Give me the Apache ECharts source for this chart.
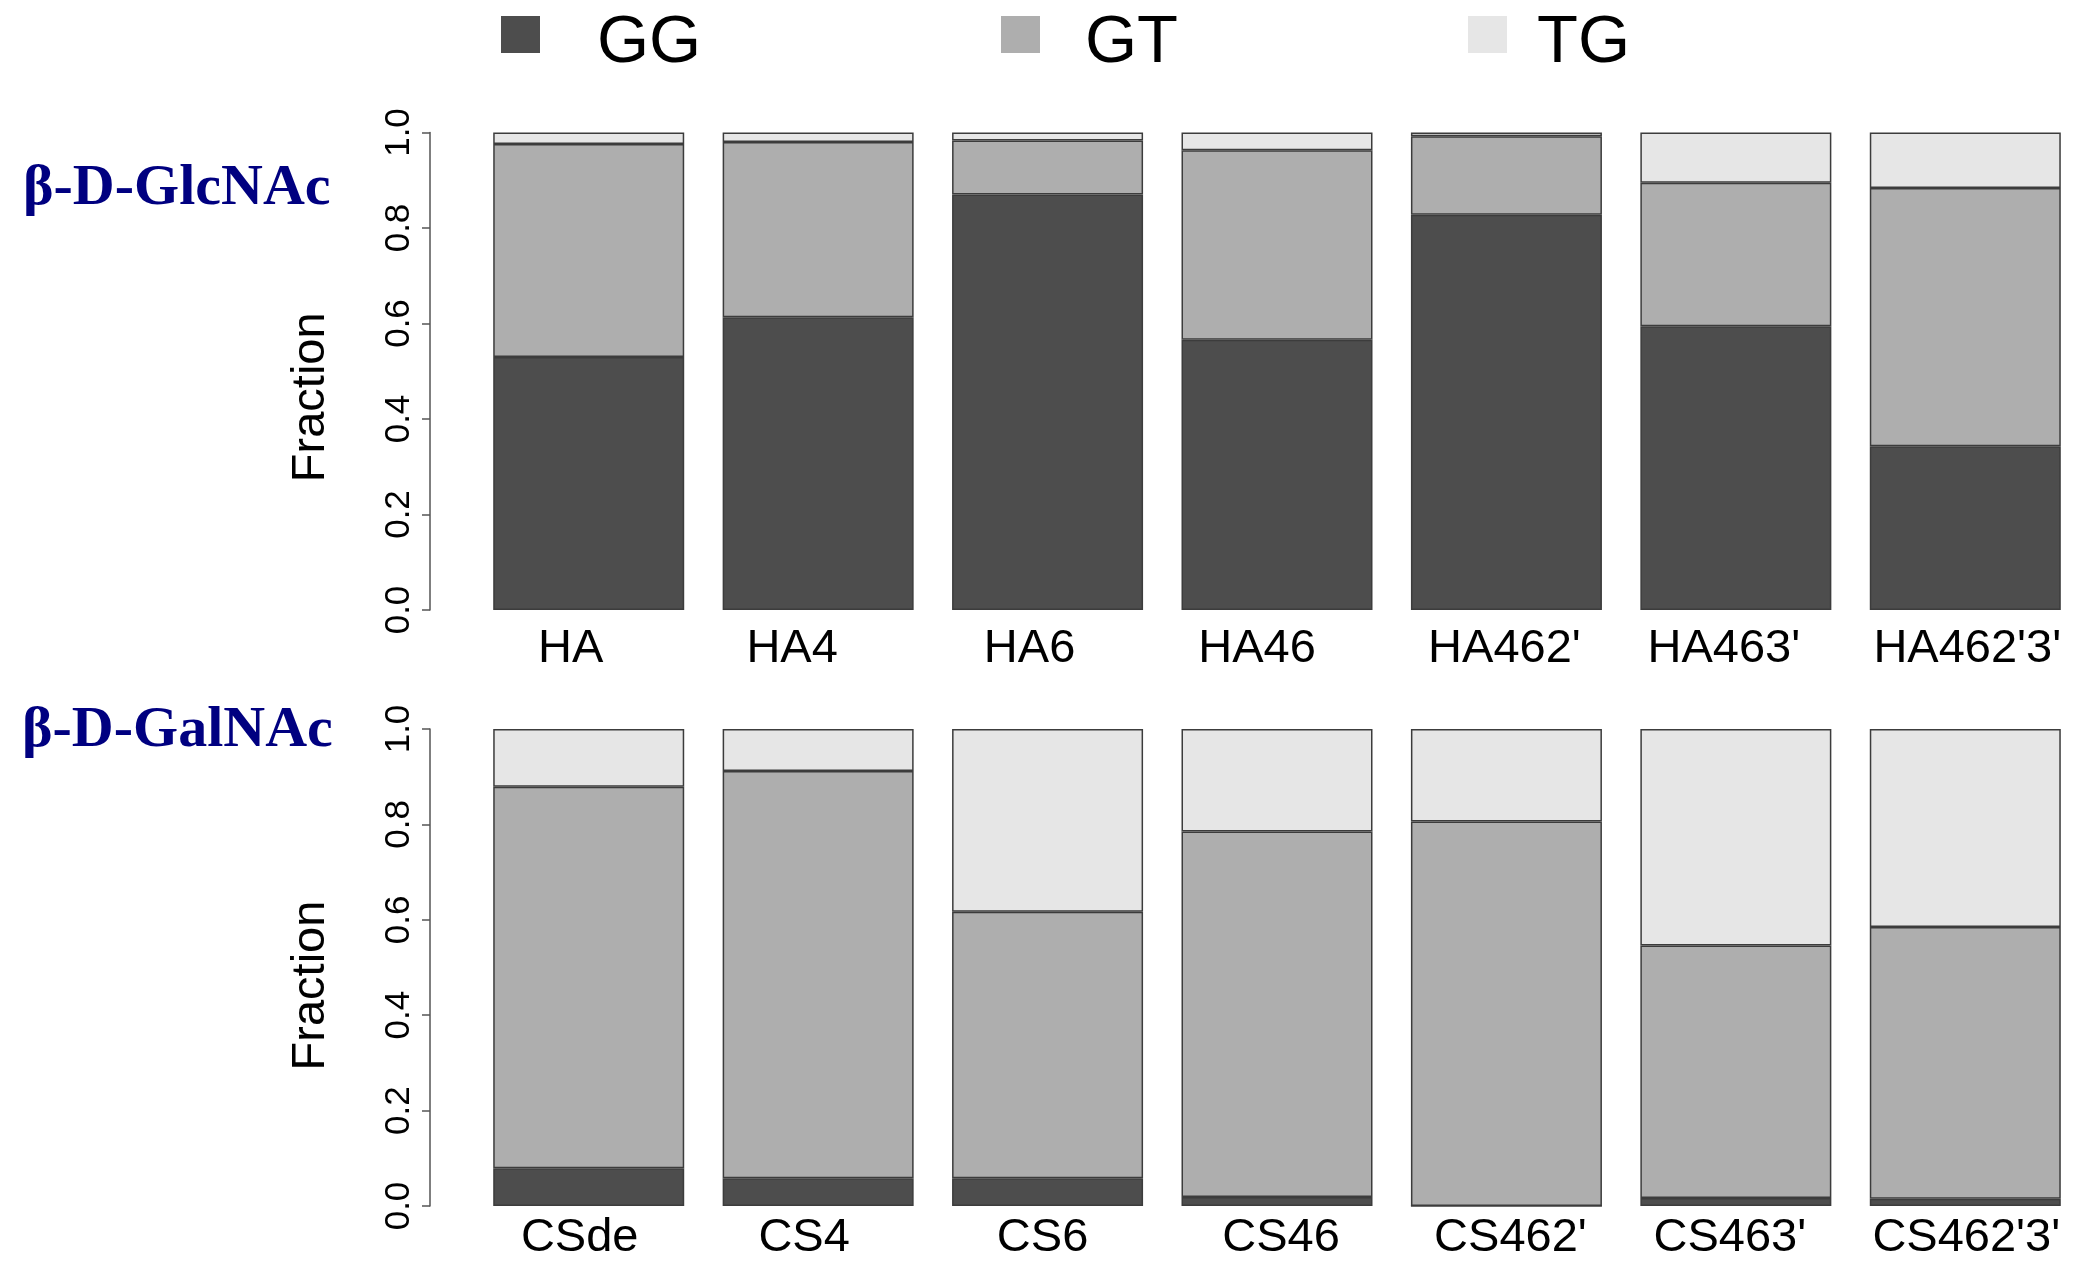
<!DOCTYPE html>
<html>
<head>
<meta charset="utf-8">
<title>Fraction chart</title>
<script src="https://cdn.jsdelivr.net/npm/echarts@6/dist/echarts.min.js"></script>
<style>
  html, body { margin: 0; padding: 0; background: #fff; }
  #main { width: 2080px; height: 1262px; }
</style>
</head>
<body>
<div id="main"></div>
<script>
// categories
var glcCategories = ['HA', 'HA4', 'HA6', 'HA46', "HA462'", "HA463'", "HA462'3'"];
var galCategories = ['CSde', 'CS4', 'CS6', 'CS46', "CS462'", "CS463'", "CS462'3'"];

// fractions, beta-D-GlcNAc (top)
var glcGG = [0.530, 0.613, 0.870, 0.566, 0.828, 0.594, 0.343];
var glcGT = [0.446, 0.367, 0.113, 0.397, 0.164, 0.301, 0.541];
var glcTG = [0.024, 0.020, 0.017, 0.037, 0.008, 0.105, 0.116];

// fractions, beta-D-GalNAc (bottom)
var galGG = [0.079, 0.058, 0.058, 0.019, 0.000, 0.017, 0.015];
var galGT = [0.800, 0.854, 0.559, 0.766, 0.806, 0.529, 0.570];
var galTG = [0.121, 0.088, 0.383, 0.215, 0.194, 0.454, 0.415];

var seriesNames = ['GG', 'GT', 'TG'];
var seriesColors = ['#4d4d4d', '#aeaeae', '#e6e6e6'];

// the tick labels in the original sit a bit off the bar centres (px, + = right)
var glcLabelNudge = [-18, -26, -18, -20, -2, -12, 2];
var galLabelNudge = [-9, -14, -5, 4, 4, -6, 1];

var chart = echarts.init(document.getElementById('main'));

var sans = '"Liberation Sans", Arial, sans-serif';

function xAxisFor(idx, cats, margin, nudge) {
  var rich = {};
  nudge.forEach(function (d, i) {
    rich['s' + i] = {
      fontFamily: sans,
      fontSize: 47,
      lineHeight: 47,
      color: '#000',
      padding: d < 0 ? [0, -2 * d, 0, 0] : [0, 0, 0, 2 * d]
    };
  });
  return {
    type: 'category',
    gridIndex: idx,
    data: cats,
    axisLine: { show: false },
    axisTick: { show: false },
    axisLabel: {
      interval: 0,
      margin: margin,
      color: '#000',
      fontFamily: sans,
      fontSize: 47,
      lineHeight: 47,
      formatter: function (value, i) { return '{s' + i + '|' + value + '}'; },
      rich: rich
    }
  };
}

function yAxisFor(idx, shift) {
  return {
    type: 'value',
    gridIndex: idx,
    min: 0,
    max: 1,
    interval: 0.2,
    offset: 44,
    name: 'Fraction',
    nameLocation: 'middle',
    nameRotate: 90,
    nameGap: 95,
    nameTextStyle: {
      color: '#000',
      fontFamily: sans,
      fontSize: 47,
      lineHeight: 47,
      padding: [0, shift * 2, 0, 0]
    },
    splitLine: { show: false },
    axisLine: { show: true, lineStyle: { color: '#555', width: 1.5 } },
    axisTick: { show: true, inside: false, length: 8, lineStyle: { color: '#555', width: 1.5 } },
    axisLabel: {
      rotate: 90,
      margin: 13,
      color: '#000',
      fontFamily: sans,
      fontSize: 35,
      lineHeight: 35,
      formatter: function (v) { return v.toFixed(1); }
    }
  };
}

function barSeries(name, color, data, idx, stack) {
  return {
    name: name,
    type: 'bar',
    stack: stack,
    xAxisIndex: idx,
    yAxisIndex: idx,
    barWidth: 191,
    data: data,
    itemStyle: { color: color, borderColor: '#3c3c3c', borderWidth: 1.5 }
  };
}

function legendFor(name, left, textPad) {
  return {
    data: [name],
    left: left,
    top: -8,
    padding: 0,
    icon: 'rect',
    itemWidth: 39,
    itemHeight: 37,
    itemStyle: { borderWidth: 0 },
    selectedMode: false,
    formatter: '{t|{name}}',
    textStyle: {
      color: '#000',
      fontFamily: sans,
      fontSize: 67,
      lineHeight: 67,
      rich: {
        t: {
          color: '#000',
          fontFamily: sans,
          fontSize: 67,
          lineHeight: 67,
          padding: [18, 0, 0, textPad]
        }
      }
    }
  };
}

var option = {
  animation: false,
  backgroundColor: '#fff',
  legend: [
    legendFor('GG', 501, 52),
    legendFor('GT', 1001, 40),
    legendFor('TG', 1468, 25)
  ],
  grid: [
    { left: 474, width: 1608, top: 132.5, height: 477.5 },
    { left: 474, width: 1608, top: 729, height: 478 }
  ],
  xAxis: [
    xAxisFor(0, glcCategories, 16, glcLabelNudge),
    xAxisFor(1, galCategories, 9, galLabelNudge)
  ],
  yAxis: [
    yAxisFor(0, 26),
    yAxisFor(1, 18)
  ],
  graphic: [
    {
      type: 'text', x: 23, y: 189,
      style: { text: 'β-D-GlcNAc', font: 'bold 58px "Liberation Serif", serif', fill: '#000080', align: 'left', verticalAlign: 'middle' }
    },
    {
      type: 'text', x: 22, y: 731,
      style: { text: 'β-D-GalNAc', font: 'bold 58px "Liberation Serif", serif', fill: '#000080', align: 'left', verticalAlign: 'middle' }
    }
  ],
  series: [
    barSeries(seriesNames[0], seriesColors[0], glcGG, 0, 'glc'),
    barSeries(seriesNames[1], seriesColors[1], glcGT, 0, 'glc'),
    barSeries(seriesNames[2], seriesColors[2], glcTG, 0, 'glc'),
    barSeries(seriesNames[0], seriesColors[0], galGG, 1, 'gal'),
    barSeries(seriesNames[1], seriesColors[1], galGT, 1, 'gal'),
    barSeries(seriesNames[2], seriesColors[2], galTG, 1, 'gal')
  ]
};

chart.setOption(option);
</script>
</body>
</html>
